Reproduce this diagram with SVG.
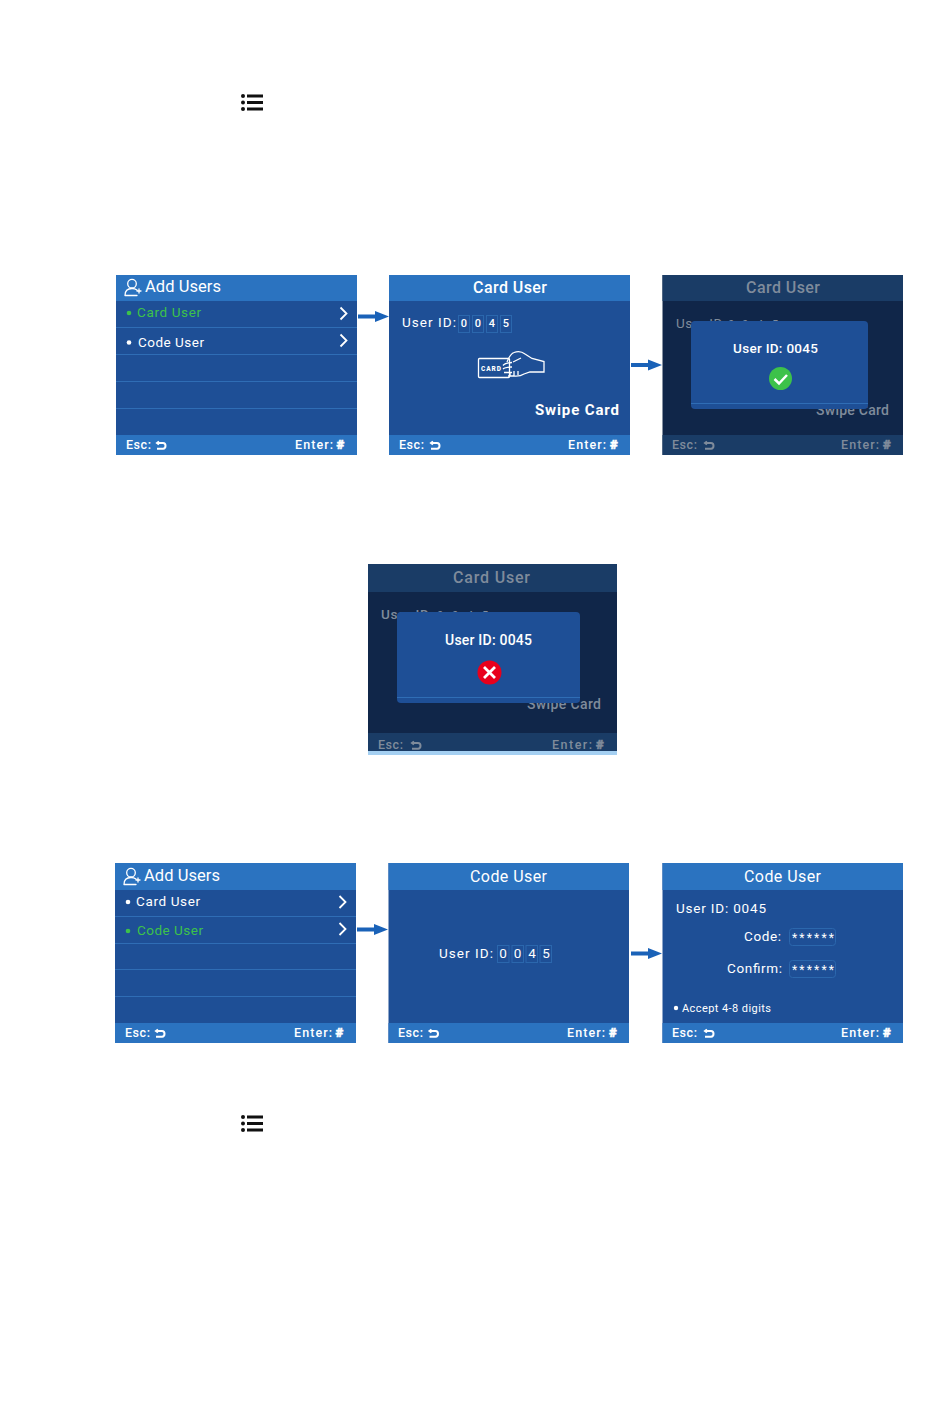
<svg xmlns="http://www.w3.org/2000/svg" xmlns:xlink="http://www.w3.org/1999/xlink" width="950" height="1419" viewBox="0 0 950 1419">
<style>
text{font-family:"Roboto","Liberation Sans",sans-serif;fill:#fff}
.hd{fill:#2b73c0}.bd{fill:#1e4f96}.ln{stroke:#2f6db5;stroke-width:1;fill:none}
.dhd{fill:#1a3c66}.dbd{fill:#102649}.dlg{fill:#1e4f96}
.t{font-size:16px;font-weight:500}.a{font-size:16.500px;font-weight:400}.r{font-size:13.500px}.f{font-size:12.500px;font-weight:500}
.h{font-size:13.500px;font-weight:900;stroke:#fff;stroke-width:.5}
.dim text,text.dim{fill:#7f8b9b}
.dim .h{stroke:#7f8b9b}
.g{fill:#3dc24a}.box{fill:none;stroke:#2b67ad;stroke-width:1}
.ico{fill:none;stroke:#fff;stroke-width:1.300;stroke-linecap:round;stroke-linejoin:round}
.arr{fill:#1a62b8}
.blk{fill:#111}
</style>
<defs>
<g id="menuicon"><circle cx="2" cy="2" r="2" class="blk"/><circle cx="2" cy="8.500" r="2" class="blk"/><circle cx="2" cy="15" r="2" class="blk"/><rect x="6" y="0.500" width="16" height="3" class="blk"/><rect x="6" y="7" width="16" height="3" class="blk"/><rect x="6" y="13.500" width="16" height="3" class="blk"/></g>
<path id="ret" d="M1.500 1.500H7Q9.500 1.500 9.500 4.300T7 7.300H1M3 0L1 1.500L3 3" fill="none" stroke-width="2"/>
<g id="user"><circle cx="8" cy="5.700" r="4.300" class="ico"/><path d="M1 17.500Q1 10.500 8 10.500Q11 10.500 13 12M1 17.500H13M15 11V15M13 13H17" class="ico"/></g>
<path id="chev" d="M0 0L6 6L0 12" fill="none" stroke="#fff" stroke-width="1.800"/>
<path id="arrow" d="M0-2H17V-5.500L31 0L17 5.500V2H0Z" class="arr"/>
</defs>

<g id="icon-top"><use xlink:href="#menuicon" x="241" y="94"/></g>
<g id="icon-bottom"><use xlink:href="#menuicon" x="241" y="1115"/></g>

<g id="add-users-card">
<rect x="116" y="275" width="241" height="180" class="bd"/>
<rect x="116" y="275" width="241" height="26" class="hd"/>
<rect x="116" y="435" width="241" height="20" class="hd"/>
<path d="M116 327.500H357M116 354.500H357M116 381.500H357M116 408.500H357" class="ln"/>
<use xlink:href="#user" x="124" y="278"/>
<text x="145" y="292" class="a" textLength="76">Add Users</text>
<circle cx="129" cy="313" r="2.300" class="g"/>
<text x="137" y="317" class="r g" textLength="64">Card User</text>
<circle cx="129" cy="342.500" r="2.300" fill="#fff"/>
<text x="138" y="346.500" class="r" textLength="66">Code User</text>
<use xlink:href="#chev" x="340.500" y="307.500"/><use xlink:href="#chev" x="340.500" y="334.500"/>
<text x="126" y="449" class="f" textLength="25">Esc:</text>
<use xlink:href="#ret" x="156" y="441.500" stroke="#fff"/>
<text x="295" y="449" class="f" textLength="38">Enter:</text>
<text x="336.500" y="449" class="h">#</text>
</g>

<g id="card-user-swipe">
<rect x="389" y="275" width="241" height="180" class="bd"/>
<rect x="389" y="275" width="241" height="26" class="hd"/>
<rect x="389" y="435" width="241" height="20" class="hd"/>
<text x="473" y="293" class="t" textLength="74">Card User</text>
<text x="402" y="327" class="r" textLength="54">User ID:</text>
<rect x="458.500" y="315.500" width="11" height="17" class="box"/><rect x="472.500" y="315.500" width="11" height="17" class="box"/><rect x="486.500" y="315.500" width="11" height="17" class="box"/><rect x="500.500" y="315.500" width="11" height="17" class="box"/>
<g font-size="11" font-weight="500" text-anchor="middle"><text x="464" y="327">0</text><text x="478" y="327">0</text><text x="492" y="327">4</text><text x="506" y="327">5</text></g>
<rect x="478.500" y="358.500" width="31" height="19" rx="1" fill="none" stroke="#fff" stroke-width="1.300"/>
<text x="481" y="371" font-size="6.500" font-weight="900" textLength="20">CARD</text>
<path d="M507 362Q510 354 514 352.500Q520 350 525 354L532 358.500L544 361.500V372L530 372L524 374Q520 376.500 514 376H508M513 362L521 358M503 365.500Q505 363 512 362.500M503 369Q505 367 512 367M504 372.500H512M510 372V376.500M514 371V376M518 371V375" fill="none" stroke="#fff" stroke-width="1.300"/>
<text x="535" y="415" font-size="15" font-weight="700" textLength="84">Swipe Card</text>
<text x="399" y="449" class="f" textLength="25">Esc:</text>
<use xlink:href="#ret" x="430" y="441.500" stroke="#fff"/>
<text x="568" y="449" class="f" textLength="38">Enter:</text>
<text x="610" y="449" class="h">#</text>
</g>

<g id="card-user-success">
<g class="dim">
<rect x="662.500" y="275" width="240.500" height="180" class="dbd"/>
<rect x="662.500" y="275" width="240.500" height="26" class="dhd"/>
<rect x="662.500" y="435" width="240.500" height="20" class="dhd"/>
<text x="746" y="293" class="t" textLength="74">Card User</text>
<text x="676" y="328" class="r" textLength="50">User ID:</text>
<g font-size="11" text-anchor="middle"><text x="731" y="328">0</text><text x="745" y="328">0</text><text x="760" y="328">4</text><text x="775" y="328">5</text></g>
<text x="816" y="415" font-size="14" font-weight="500" textLength="73">Swipe Card</text>
<text x="672" y="449" class="f" textLength="25">Esc:</text>
<use xlink:href="#ret" x="704" y="441.500" stroke="#7f8b9b"/>
<text x="841" y="449" class="f" textLength="38">Enter:</text>
<text x="883" y="449" class="h">#</text>
</g>
<rect x="691" y="321" width="177" height="88" rx="4" class="dlg"/>
<path d="M691 403.500H868" class="ln"/>
<text x="733" y="353" font-size="13.500" font-weight="500" textLength="85">User ID: 0045</text>
<circle cx="780.500" cy="378.500" r="11.500" fill="#3dc24a"/>
<path d="M774.500 379L779 383.500L787 375" fill="none" stroke="#fff" stroke-width="2.500"/>
</g>

<g id="card-user-failure">
<rect x="368" y="751" width="249" height="4" fill="#a5d0f2"/>
<g class="dim">
<rect x="368" y="564" width="249" height="187" class="dbd"/>
<rect x="368" y="564" width="249" height="28" class="dhd"/>
<rect x="368" y="733" width="249" height="18" class="dhd"/>
<text x="453" y="583" class="t" textLength="77">Card User</text>
<text x="381" y="619" class="r" font-weight="500" textLength="52">User ID:</text>
<g font-size="11" text-anchor="middle"><text x="440" y="619">0</text><text x="455" y="619">0</text><text x="470" y="619">4</text><text x="485" y="619">5</text></g>
<text x="527" y="709" font-size="14" font-weight="500" textLength="74">Swipe Card</text>
<text x="378" y="749" class="f" textLength="25">Esc:</text>
<use xlink:href="#ret" x="411" y="741.500" stroke="#7f8b9b"/>
<text x="552" y="749" class="f" textLength="40">Enter:</text>
<text x="596" y="749" class="h">#</text>
</g>
<rect x="397" y="612" width="183" height="91" rx="4" class="dlg"/>
<path d="M397 697.500H580" class="ln"/>
<text x="445" y="645" font-size="14" font-weight="500" textLength="87">User ID: 0045</text>
<circle cx="489.500" cy="672.500" r="12" fill="#e8001c"/>
<path d="M484 667L495 678M495 667L484 678" fill="none" stroke="#fff" stroke-width="2.800"/>
</g>

<g id="add-users-code">
<rect x="115" y="863" width="241" height="180" class="bd"/>
<rect x="115" y="863" width="241" height="27" class="hd"/>
<rect x="115" y="1023" width="241" height="20" class="hd"/>
<path d="M115 916.500H356M115 943.500H356M115 969.500H356M115 996.500H356" class="ln"/>
<use xlink:href="#user" x="123" y="867"/>
<text x="144" y="881" class="a" textLength="76">Add Users</text>
<circle cx="128" cy="902" r="2.300" fill="#fff"/>
<text x="136" y="906" class="r" textLength="64">Card User</text>
<circle cx="128" cy="931" r="2.300" class="g"/>
<text x="137" y="935" class="r g" textLength="66">Code User</text>
<use xlink:href="#chev" x="339.500" y="896"/><use xlink:href="#chev" x="339.500" y="923"/>
<text x="125" y="1037" class="f" textLength="25">Esc:</text>
<use xlink:href="#ret" x="155" y="1029.500" stroke="#fff"/>
<text x="294" y="1037" class="f" textLength="38">Enter:</text>
<text x="335.500" y="1037" class="h">#</text>
</g>

<g id="code-user-id">
<rect x="388.500" y="863" width="240.500" height="180" class="bd"/>
<rect x="388.500" y="863" width="240.500" height="27" class="hd"/>
<rect x="388.500" y="1023" width="240.500" height="20" class="hd"/>
<text x="470" y="882" font-size="16" textLength="77">Code User</text>
<text x="439" y="958" class="r" textLength="54">User ID:</text>
<rect x="497.500" y="945.500" width="11.500" height="17" class="box"/><rect x="512" y="945.500" width="11.500" height="17" class="box"/><rect x="526" y="945.500" width="11.500" height="17" class="box"/><rect x="540" y="945.500" width="11.500" height="17" class="box"/>
<g font-size="13.500" text-anchor="middle"><text x="503" y="958">0</text><text x="517.500" y="958">0</text><text x="532" y="958">4</text><text x="546" y="958">5</text></g>
<text x="398" y="1037" class="f" textLength="25">Esc:</text>
<use xlink:href="#ret" x="428.500" y="1029.500" stroke="#fff"/>
<text x="567" y="1037" class="f" textLength="38">Enter:</text>
<text x="609" y="1037" class="h">#</text>
</g>

<g id="code-user-confirm">
<rect x="662.500" y="863" width="240.500" height="180" class="bd"/>
<rect x="662.500" y="863" width="240.500" height="27" class="hd"/>
<rect x="662.500" y="1023" width="240.500" height="20" class="hd"/>
<text x="744" y="882" font-size="16" textLength="77">Code User</text>
<text x="676" y="913" class="r" textLength="90">User ID: 0045</text>
<text x="744" y="941" class="r" textLength="37">Code:</text>
<rect x="789.500" y="928.500" width="46" height="17" rx="3" class="box"/>
<text x="792" y="942" font-size="12" textLength="42">******</text>
<text x="727" y="973" class="r" textLength="55">Confirm:</text>
<rect x="789.500" y="960.500" width="46" height="17" rx="3" class="box"/>
<text x="792" y="974" font-size="12" textLength="42">******</text>
<circle cx="676" cy="1008" r="2.200" fill="#fff"/>
<text x="682" y="1012" font-size="11" textLength="89">Accept 4-8 digits</text>
<text x="672" y="1037" class="f" textLength="25">Esc:</text>
<use xlink:href="#ret" x="704" y="1029.500" stroke="#fff"/>
<text x="841" y="1037" class="f" textLength="38">Enter:</text>
<text x="883" y="1037" class="h">#</text>
</g>

<g id="connectors">
<use xlink:href="#arrow" x="358" y="316.500"/>
<use xlink:href="#arrow" x="631" y="365"/>
<use xlink:href="#arrow" x="357" y="929.500"/>
<use xlink:href="#arrow" x="631" y="953.500"/>
</g>
</svg>
